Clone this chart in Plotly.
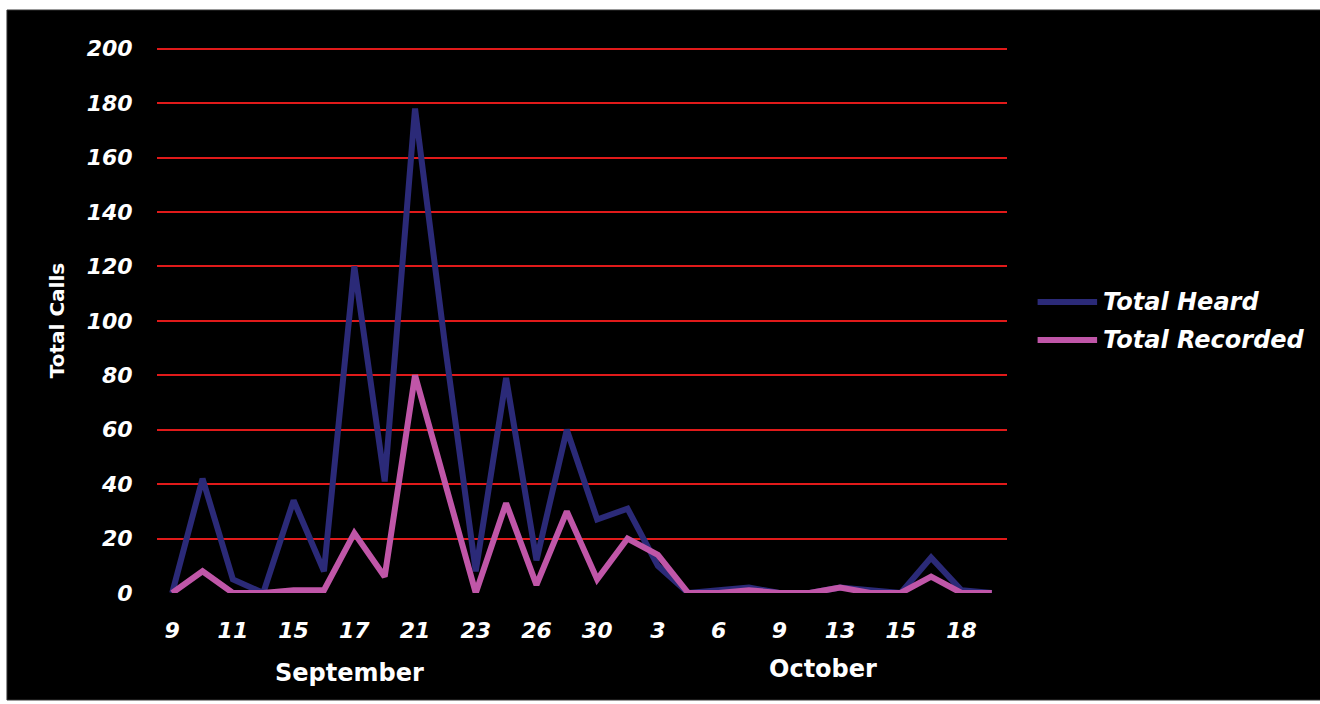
import plotly.graph_objects as go

# Day labels shown under every second observation
day_labels = ["9", "11", "15", "17", "21", "23", "26", "30",
              "3", "6", "9", "13", "15", "18"]

# Observation sequence (one entry per survey night)
heard = [0, 42, 5, 0, 34, 8, 120, 41, 178, 90, 8, 79, 12, 60,
         27, 31, 10, 0, 1, 2, 0, 0, 2, 1, 0, 13, 1, 0]
recorded = [0, 8, 0, 0, 1, 1, 22, 6, 80, 40, 0, 33, 3, 30,
            5, 20, 14, 0, 0, 1, 0, 0, 2, 0, 0, 6, 0, 0]

series_names = ["Total Heard", "Total Recorded"]
series_colors = ["#2b2a78", "#c056a8"]

y_ticks = [0, 20, 40, 60, 80, 100, 120, 140, 160, 180, 200]

nights = list(range(len(heard)))

FONT = "DejaVu Sans, Arial, sans-serif"
tick_font = dict(family=FONT, size=22, color="white", weight="bold", style="italic")

fig = go.Figure()
for name, values, color in zip(series_names, [heard, recorded], series_colors):
    fig.add_trace(go.Scatter(
        x=nights, y=values, name=name, mode="lines",
        line=dict(color=color, width=6), showlegend=False,
    ))

# Hand-drawn legend on the right: a swatch line plus an italic label per series
legend_shapes = []
legend_notes = []
for i, (name, color) in enumerate(zip(series_names, series_colors)):
    y_row = 0.532 - i * 0.0695
    legend_shapes.append(dict(
        type="line", xref="paper", yref="paper",
        x0=1.036, x1=1.106, y0=y_row, y1=y_row,
        line=dict(color=color, width=6),
    ))
    legend_notes.append(dict(
        text=name, xref="paper", yref="paper", x=1.111, y=y_row,
        xanchor="left", yanchor="middle", showarrow=False,
        font=dict(family=FONT, size=24, color="white", weight="bold", style="italic"),
    ))

fig.update_layout(
    width=1320, height=704,
    margin=dict(l=157, r=313, t=46, b=111),
    paper_bgcolor="white",
    plot_bgcolor="black",
    showlegend=False,
    xaxis=dict(
        range=[-0.5, len(heard) - 0.5],
        tickmode="array",
        tickvals=nights[::2],
        ticktext=day_labels,
        showgrid=False, zeroline=False, showline=False,
        ticks="outside", ticklen=18, tickcolor="rgba(0,0,0,0)",
        tickfont=tick_font,
    ),
    yaxis=dict(
        range=[0, 201],
        tickmode="array",
        tickvals=y_ticks,
        showgrid=True, gridcolor="#e01a1a", gridwidth=2,
        zeroline=True, zerolinecolor="black", zerolinewidth=1,
        layer="below traces",
        showline=False,
        ticks="outside", ticklen=19, tickcolor="rgba(0,0,0,0)",
        tickfont=tick_font,
    ),
    shapes=[dict(
        type="rect", xref="paper", yref="paper",
        x0=-0.1765, x1=1.37, y0=-0.1956, y1=1.0658,
        fillcolor="black", line=dict(color="#333333", width=1),
        layer="below",
    )] + legend_shapes,
    annotations=[
        dict(text="Total Calls", xref="paper", yref="paper", x=-0.1176, y=0.497,
             textangle=-90, showarrow=False, xanchor="center", yanchor="middle",
             font=dict(family=FONT, size=20, color="white", weight="bold")),
        dict(text="September", xref="paper", yref="paper", x=0.227, y=-0.146,
             showarrow=False, xanchor="center", yanchor="middle",
             font=dict(family=FONT, size=24, color="white", weight="bold")),
        dict(text="October", xref="paper", yref="paper", x=0.784, y=-0.139,
             showarrow=False, xanchor="center", yanchor="middle",
             font=dict(family=FONT, size=24, color="white", weight="bold")),
    ] + legend_notes,
)

fig.write_html("out.html")
